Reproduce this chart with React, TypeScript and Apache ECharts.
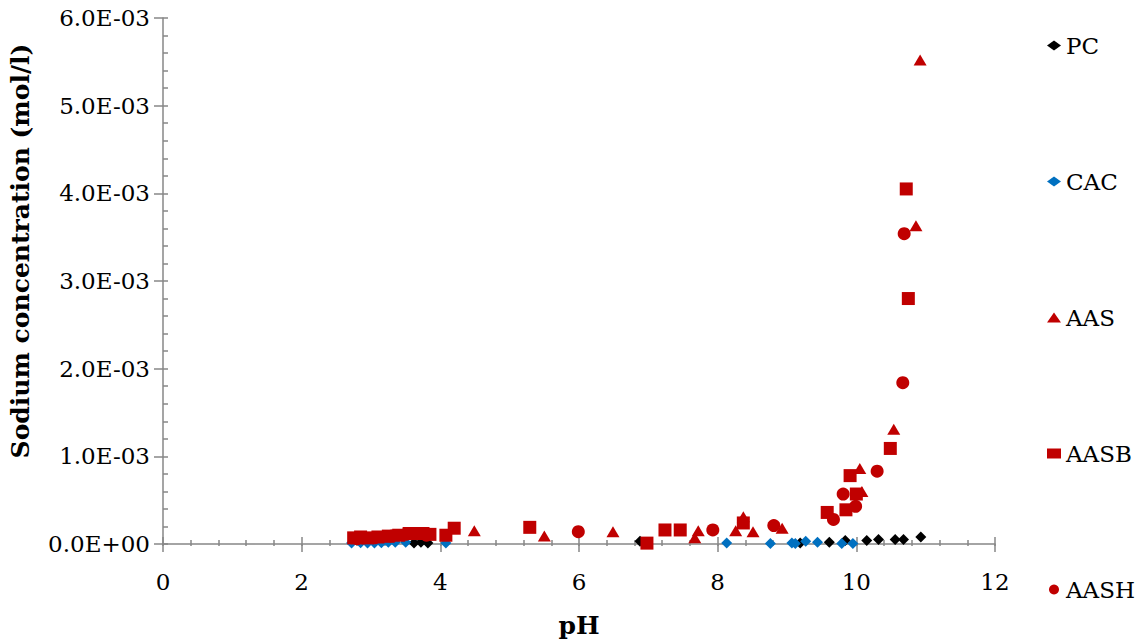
import React, { useEffect, useRef } from "react";
import * as echarts from "echarts";

const seriesNames = ["PC", "CAC", "AAS", "AASB", "AASH"];

const pcData: number[][] = [
  [3.62, 0.00001], [3.72, 0.00002], [3.82, 0.00001], [6.88, 0.00003],
  [9.19, 0.00001], [9.61, 0.00002], [9.84, 0.00004], [10.15, 0.00004],
  [10.32, 0.00005], [10.56, 0.00005], [10.68, 0.00005], [10.93, 0.00008],
];

const cacData: number[][] = [
  [2.72, 0.00001], [2.85, 0.000015], [2.95, 0.00001], [3.05, 0.00001],
  [3.15, 0.000015], [3.25, 0.00002], [3.35, 0.00002], [3.5, 0.00002],
  [4.08, 0.00001], [8.13, 0.00001], [8.76, 0.000005], [9.07, 0.00001],
  [9.12, 0.000005], [9.27, 0.00003], [9.44, 0.00002], [9.79, 0.000005],
  [9.95, 0.000005],
];

const aasData: number[][] = [
  [2.8, 0.00006], [3.0, 0.00007], [3.2, 0.00008], [3.4, 0.0001],
  [3.6, 0.00012], [3.75, 0.00012], [4.49, 0.00015], [5.5, 0.00009],
  [6.49, 0.00014], [7.67, 0.00007], [7.72, 0.00015], [8.26, 0.00015],
  [8.37, 0.00031], [8.51, 0.00014], [8.93, 0.00018], [10.08, 0.0006],
  [10.05, 0.00086], [10.54, 0.00131], [10.86, 0.00363], [10.92, 0.00552],
];

const aasbData: number[][] = [
  [2.75, 0.00007], [2.85, 0.00008], [2.95, 0.00007], [3.1, 0.00008],
  [3.25, 0.00009], [3.4, 0.0001], [3.55, 0.00012], [3.65, 0.00012],
  [3.75, 0.00012], [3.85, 0.00011], [4.08, 0.0001], [4.2, 0.00018],
  [5.29, 0.00019], [6.98, 0.00001], [7.24, 0.00016], [7.46, 0.00016],
  [8.37, 0.00024], [9.58, 0.00036], [9.85, 0.00039], [10.0, 0.00057],
  [9.91, 0.00078], [10.49, 0.00109], [10.75, 0.0028], [10.72, 0.00405],
];

const aashData: number[][] = [
  [2.8, 0.00006], [2.9, 0.00007], [3.05, 0.00007], [3.3, 0.00009],
  [3.5, 0.00011], [3.65, 0.00012], [3.8, 0.0001], [5.99, 0.00014],
  [7.93, 0.00016], [8.81, 0.00021], [9.67, 0.00028], [9.81, 0.00057],
  [9.99, 0.00043], [10.3, 0.00083], [10.67, 0.00184], [10.69, 0.00354],
];

const FONT = "DejaVu Serif";
const AXIS_COLOR = "#878787";

function sci(v: number): string {
  if (Math.abs(v) < 1e-12) return "0.0E+00";
  const e = Math.floor(Math.log10(Math.abs(v)) + 1e-9);
  const m = v / Math.pow(10, e);
  const sign = e < 0 ? "-" : "+";
  const ae = Math.abs(e);
  return m.toFixed(1) + "E" + sign + (ae < 10 ? "0" + ae : String(ae));
}

const GRID_LEFT = 163;
const GRID_TOP = 18;
const GRID_W = 832;
const GRID_H = 528;

export default function App() {
  const ref = useRef<HTMLDivElement>(null);
  useEffect(() => {
    if (!ref.current) return;
    const chart = echarts.init(ref.current, null, { renderer: "svg" });
    const red = "#C00000";
    chart.setOption({
      animation: false,
      backgroundColor: "#ffffff",
      grid: { left: GRID_LEFT, top: GRID_TOP, width: GRID_W, height: GRID_H, containLabel: false },
      legend: {
        orient: "vertical",
        left: 1042,
        top: 29,
        itemWidth: 14,
        itemHeight: 10,
        itemGap: 113,
        data: seriesNames,
        textStyle: { fontFamily: FONT, fontSize: 23, lineHeight: 22, color: "#000" },
      },
      xAxis: [
        {
          type: "value",
          min: 0,
          max: 12,
          interval: 2,
          name: "pH",
          nameLocation: "middle",
          nameGap: 69,
          nameTextStyle: { fontFamily: FONT, fontSize: 25, fontWeight: "bold", color: "#000" },
          axisLine: { show: true, onZero: false, lineStyle: { color: AXIS_COLOR, width: 1.5 } },
          axisTick: { show: true, inside: false, length: 8, lineStyle: { color: AXIS_COLOR, width: 1.5 } },
          axisLabel: { fontFamily: FONT, fontSize: 23, color: "#000", margin: 26 },
          splitLine: { show: false },
        },
        {
          type: "value",
          position: "top",
          offset: -GRID_H,
          min: 0,
          max: 12,
          interval: 2,
          axisLine: { show: false, onZero: false },
          axisTick: { show: true, inside: false, length: 9, lineStyle: { color: AXIS_COLOR, width: 1.5 } },
          minorTick: { show: true, splitNumber: 5, length: 6, lineStyle: { color: AXIS_COLOR, width: 1.5 } },
          axisLabel: { show: false },
          splitLine: { show: false },
        },
      ],
      yAxis: [
        {
          type: "value",
          min: 0,
          max: 0.006,
          interval: 0.001,
          name: "Sodium concentration (mol/l)",
          nameLocation: "middle",
          nameGap: 130,
          nameTextStyle: {
            fontFamily: FONT,
            fontSize: 25,
            fontWeight: "bold",
            color: "#000",
            padding: [0, 0, 0, 60],
          },
          axisLine: { show: true, onZero: false, lineStyle: { color: AXIS_COLOR, width: 1.5 } },
          axisTick: { show: true, inside: false, length: 9, lineStyle: { color: AXIS_COLOR, width: 1.5 } },
          axisLabel: { fontFamily: FONT, fontSize: 23, color: "#000", margin: 13, formatter: (v: number) => sci(v) },
          splitLine: { show: false },
        },
        {
          type: "value",
          position: "right",
          offset: -GRID_W,
          min: 0,
          max: 0.006,
          interval: 0.001,
          axisLine: { show: false, onZero: false },
          axisTick: { show: true, inside: false, length: 5, lineStyle: { color: AXIS_COLOR, width: 1.5 } },
          minorTick: { show: true, splitNumber: 5, length: 5, lineStyle: { color: AXIS_COLOR, width: 1.5 } },
          axisLabel: { show: false },
          splitLine: { show: false },
        },
      ],
      series: [
        { name: "PC", type: "scatter", data: pcData, symbol: "diamond", symbolSize: 11, itemStyle: { color: "#000000", opacity: 1 } },
        { name: "CAC", type: "scatter", data: cacData, symbol: "diamond", symbolSize: 11, itemStyle: { color: "#0070C0", opacity: 1 } },
        { name: "AAS", type: "scatter", data: aasData, symbol: "triangle", symbolSize: [13, 11], itemStyle: { color: red, opacity: 1 } },
        { name: "AASB", type: "scatter", data: aasbData, symbol: "rect", symbolSize: 13, itemStyle: { color: red, opacity: 1 } },
        { name: "AASH", type: "scatter", data: aashData, symbol: "circle", symbolSize: 13, itemStyle: { color: red, opacity: 1 } },
      ],
    });
    return () => chart.dispose();
  }, []);
  return (
    <div
      ref={ref}
      style={{ position: "fixed", left: 0, top: 0, width: 1146, height: 643, background: "#fff" }}
    />
  );
}
